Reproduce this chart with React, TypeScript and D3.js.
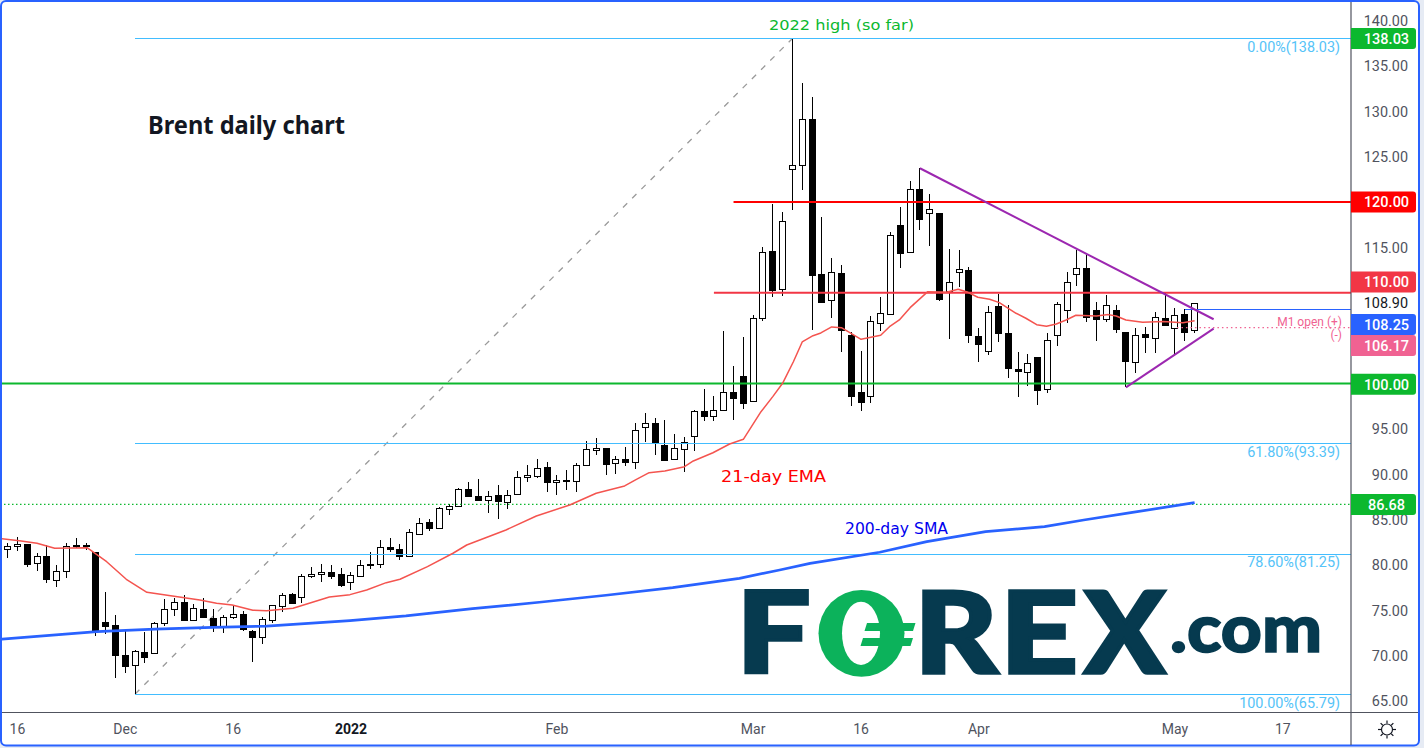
import React from "react";
import * as d3 from "d3";

const opens = [
81.80,82.07,82.32,80.19,80.97,78.43,79.42,82.18,82.18,81.41,
73.72,73.36,70.06,68.95,70.39,70.28,73.58,75.13,75.90,73.91,
75.13,74.13,73.14,74.20,74.57,72.70,72.04,73.91,75.41,76.78,
76.40,78.72,78.94,79.24,78.98,78.06,78.87,80.09,80.09,81.96,
81.74,80.97,83.50,84.71,84.05,86.15,86.43,88.35,87.58,87.25,
87.69,87.03,87.75,89.67,89.78,90.77,89.08,89.34,89.19,91.00,
92.61,92.87,91.17,91.66,91.33,95.14,95.62,93.23,91.66,92.87,
94.19,96.95,96.40,97.06,99.04,100.84,98.01,107.16,114.62,110.35,
123.58,124.02,129.16,112.08,109.18,112.16,105.36,99.04,98.60,106.65,
107.64,117.48,114.43,121.45,118.77,118.80,110.17,112.27,112.52,105.21,
103.56,108.52,105.54,101.57,101.25,102.93,99.33,105.32,108.08,112.05,
112.74,108.11,107.04,108.11,105.65,102.35,105.47,105.00,107.20,106.10,
107.67,105.87];

const closes = [
82.10,82.32,80.15,80.97,78.39,79.38,82.13,82.13,82.02,72.77,
73.32,70.01,68.80,70.50,69.79,73.58,75.13,75.90,73.87,75.24,
74.20,73.21,74.24,74.57,72.88,71.99,74.02,75.56,76.67,75.74,
78.76,78.98,79.20,78.83,77.81,78.87,80.04,79.93,81.96,81.69,
80.97,83.61,84.67,84.05,86.26,86.48,88.35,87.53,87.10,87.64,
86.98,87.75,89.67,89.89,90.66,89.08,89.34,89.19,91.00,92.76,
92.87,91.06,91.66,91.28,94.85,95.62,93.38,91.62,92.87,93.60,
96.95,96.35,97.06,99.04,98.34,97.90,107.20,114.47,110.35,117.89,
124.06,129.13,111.97,109.03,112.27,105.83,98.67,97.90,106.87,107.75,
116.35,114.43,121.41,118.17,119.21,109.32,111.16,112.60,105.39,104.29,
107.86,105.50,101.64,101.31,102.24,99.33,104.77,108.74,111.16,112.71,
107.37,107.16,108.63,106.05,102.41,105.32,105.17,107.31,106.38,107.53,
105.72,108.85];

const highs = [
82.40,83.06,82.32,81.30,82.18,79.98,82.47,82.95,82.47,81.47,
77.03,74.50,72.84,70.64,72.66,73.69,76.26,76.34,76.70,75.68,
76.34,75.13,74.50,75.49,74.90,72.84,74.24,75.60,76.89,76.89,
78.98,79.75,80.12,80.01,79.64,79.24,80.56,81.41,82.76,82.95,
82.32,83.94,85.15,85.04,86.43,86.73,88.46,89.12,89.48,88.13,
88.82,88.27,90.37,91.03,91.69,91.36,89.93,90.48,91.22,93.67,
94.00,92.87,92.02,93.01,95.66,96.73,96.21,95.99,94.44,94.15,
97.09,99.40,98.63,105.80,101.94,105.14,107.56,115.09,119.80,118.88,
138.03,133.13,131.59,118.36,113.85,113.07,105.66,103.60,107.45,109.51,
116.71,119.46,122.33,123.73,120.89,118.80,114.83,114.72,112.85,106.13,
108.55,109.88,108.66,103.48,103.26,102.93,105.54,109.00,112.30,114.72,
114.17,109.00,109.76,108.63,105.72,106.13,106.20,107.86,109.95,108.30,
108.19,108.90];

const lows = [
80.75,81.58,79.82,79.38,78.06,77.62,78.61,81.85,81.66,72.22,
72.44,67.59,68.14,65.79,69.24,70.28,73.28,74.42,73.87,73.91,
74.20,72.66,72.55,74.09,72.70,69.35,71.33,73.65,74.86,75.74,
75.85,78.52,78.13,78.50,77.62,77.25,78.72,79.60,79.71,81.47,
80.59,80.97,83.50,83.79,84.05,85.52,86.43,87.53,87.10,85.77,
85.11,86.21,87.75,89.12,89.56,88.09,87.75,88.27,88.09,91.00,
92.13,89.96,90.07,90.92,90.59,93.60,92.17,91.62,91.66,90.29,
92.61,95.91,95.91,97.01,95.99,97.17,98.01,106.90,109.58,109.69,
119.17,121.34,105.91,109.03,107.27,103.52,97.57,97.01,97.90,105.83,
107.64,112.77,114.39,116.93,115.17,109.14,104.95,110.61,104.51,102.41,
103.19,104.62,100.65,98.56,99.74,97.67,99.00,104.18,106.71,110.76,
106.79,104.73,106.79,105.61,99.66,101.20,103.41,103.41,106.35,103.26,
104.73,105.61];

const emaDays = [-0.6,1.2,3,4.8,8.1,10.1,12.1,14.2,16.8,19.6,21.3,22.9,25,26.4,29.1,32.8,34.9,36.6,38.6,40,42.8,45.4,46.8,50.8,53.9,57.3,60,62.9,64.1,65.4,67,69,69.9,71.9,73.6,75,76.8,78,79,80.1,81,82.1,82.9,84,85,87,89,89.9,90.9,92,93.8,95.7,96.9,97.9,98.9,100.1,101.1,102.8,103.8,104.9,105.9,106.9,107.9,108.9,111,112.2,113,114,115.7,117.8,119.8,121];
const emaValues = [82.91,82.69,82.40,81.85,81.92,80.37,78.43,77.00,76.59,76.15,75.78,75.60,75.02,74.97,75.24,76.48,76.74,77.25,78.06,78.43,79.82,81.30,82.21,83.87,85.41,86.62,87.91,88.72,89.45,90.18,90.37,90.84,91.47,92.38,93.34,93.86,96.90,98.56,100.03,102.41,104.59,105.28,105.58,106.24,106.16,104.88,105.32,106.27,107.01,108.37,110.13,110.06,110.39,110.06,109.51,109.29,108.92,107.75,107.20,106.49,106.32,106.57,107.01,107.53,107.45,107.60,107.45,107.01,106.76,106.83,106.71,106.93];

const smaDays = [-0.9,9.1,15,20.9,26.4,34.9,40.6,47.4,54.2,61,67.8,74.6,78.7,81.8,88.9,93.7,99.7,105.7,109.7,114.5,121];
const smaValues = [71.80,72.66,72.95,73.14,73.28,73.87,74.39,75.19,75.90,76.67,77.51,78.54,79.46,80.19,81.41,82.58,83.68,84.23,84.97,85.77,86.88];

const yTicks = [140,135,130,125,115,95,90,85,80,75,70,65];
const xTickDays = [1,12,23,35,56,76,87,99,119,130];
const xTickLabels = ["16","Dec","16","2022","Feb","Mar","16","Apr","May","17"];
const fibValues = [138.03,93.39,81.25,65.79];
const fibLabels = ["0.00%(138.03)","61.80%(93.39)","78.60%(81.25)","100.00%(65.79)"];
const fibStartDay = 13;
const highDay = 80;
const resistanceUpperDays = [93,122.94];
const resistanceUpperValues = [123.73,107.09];
const supportLowerDays = [114,122.94];
const supportLowerValues = [99.59,106.05];

const AX = 1351, AY = 712.5;
const x = d3.scaleLinear().domain([0,121]).range([7.6,1194.6]);
const y = d3.scaleLinear().domain([65.79,138.03]).range([694,38.5]);
const UI = "Roboto, 'Liberation Sans', sans-serif";
const LAB = "'DejaVu Sans', sans-serif";
const emaLine = d3.line<number>().x(d=>x(d)).y((_,i)=>y(emaValues[i]));
const smaLine = d3.line<number>().x(d=>x(d)).y((_,i)=>y(smaValues[i]));

function Tag({cy,fill,label}:{cy:number;fill:string;label:string}){
  return <g>
    <path d={`M${AX} ${cy-10.5}H${AX+62}a3 3 0 0 1 3 3V${cy+7.5}a3 3 0 0 1 -3 3H${AX}Z`} fill={fill}/>
    <text x={AX+35.5} y={cy+5.2} textAnchor="middle" fontSize={14.5} fill="#fff" fontFamily={UI} fontWeight={500}>{label}</text>
  </g>;
}

export default function App(){
  const barW = 6;
  return <svg width={1424} height={748} style={{position:"absolute",left:0,top:0}}>
    <rect width={1424} height={748} fill="#e6ebf4"/>
    <rect x={1} y={1} width={1418} height={744.5} rx={5} fill="#fff" stroke="#2962ff" strokeWidth={2}/>
    <defs><clipPath id="plot"><rect x={2} y={2} width={AX-2} height={AY-2}/></clipPath></defs>

    <g clipPath="url(#plot)">
      <line x1={x(fibStartDay)} y1={y(fibValues[3])} x2={x(highDay)} y2={y(fibValues[0])} stroke="#9a9a9a" strokeWidth={1.3} strokeDasharray="6 7"/>

      {opens.map((o,i)=>{
        const c=closes[i], up=c>=o, cx=Math.floor(x(i))+0.5;
        const t=y(Math.max(o,c)), b=y(Math.min(o,c));
        return <g key={i} shapeRendering="crispEdges">
          <line x1={cx} x2={cx} y1={y(highs[i])} y2={y(lows[i])} stroke="#000" strokeWidth={1}/>
          <rect x={cx-barW/2} y={Math.round(t)+0.5} width={barW} height={Math.max(Math.round(b-t),1)} fill={up?"#fff":"#000"} stroke="#000" strokeWidth={1}/>
        </g>;
      })}

      <g shapeRendering="crispEdges">
        {fibValues.map(v=>{const fy=Math.round(y(v)-0.1)+0.5;return <line key={v} x1={x(fibStartDay)} x2={AX} y1={fy} y2={fy} stroke="#42bdff" strokeWidth={1}/>;})}
        <line x1={x(120)} x2={AX} y1={309.5} y2={309.5} stroke="#2962ff" strokeWidth={1}/>
      </g>
      <line x1={0} x2={AX} y1={y(86.68)} y2={y(86.68)} stroke="#0cb82e" strokeWidth={1.2} strokeDasharray="1.5 2.5"/>
      <line x1={x(119.2)} x2={AX} y1={y(106.17)} y2={y(106.17)} stroke="#f06292" strokeWidth={1.2} strokeDasharray="1.5 3"/>
      <line x1={0} x2={AX} y1={y(100)} y2={y(100)} stroke="#0cb82e" strokeWidth={2}/>
      <line x1={x(72)} x2={AX} y1={y(110)} y2={y(110)} stroke="#f23645" strokeWidth={2}/>
      <line x1={x(74)} x2={AX} y1={y(120)} y2={y(120)} stroke="#ff0000" strokeWidth={2}/>

      <path d={smaLine(smaDays)!} fill="none" stroke="#2962ff" strokeWidth={2.7} strokeLinejoin="round"/>
      <path d={emaLine(emaDays)!} fill="none" stroke="#f4544f" strokeWidth={1.5} strokeLinejoin="round"/>

      <line x1={x(resistanceUpperDays[0])} y1={y(resistanceUpperValues[0])} x2={x(resistanceUpperDays[1])} y2={y(resistanceUpperValues[1])} stroke="#9c27b0" strokeWidth={2}/>
      <line x1={x(supportLowerDays[0])} y1={y(supportLowerValues[0])} x2={x(supportLowerDays[1])} y2={y(supportLowerValues[1])} stroke="#9c27b0" strokeWidth={2}/>

      {fibLabels.map((l,i)=><text key={l} x={1340} y={y(fibValues[i])+13.5} textAnchor="end" fontSize={14.4} fill="#55c3f8" fontFamily={UI}>{l}</text>)}
      <text x={1342} y={326} textAnchor="end" fontSize={12} fill="#f06292" fontFamily={UI}>M1 open (+)</text>
      <text x={1342} y={339} textAnchor="end" fontSize={12} fill="#f06292" fontFamily={UI}>(-)</text>

      <text x={769} y={30} fontSize={14.5} fill="#0cb82e" fontFamily={LAB} textLength={145} lengthAdjust="spacingAndGlyphs">2022 high (so far)</text>
      <text x={721} y={482} fontSize={15} fill="#ff0000" fontFamily={LAB} textLength={105} lengthAdjust="spacingAndGlyphs">21-day EMA</text>
      <text x={845} y={533.5} fontSize={15} fill="#0000ee" fontFamily={LAB} textLength={103} lengthAdjust="spacingAndGlyphs">200-day SMA</text>
      <text x={148} y={134} fontSize={25} fontWeight={700} fill="#131722" fontFamily="'Noto Sans', sans-serif" textLength={197} lengthAdjust="spacingAndGlyphs">Brent daily chart</text>

      {/* FOREX.com logo */}
      <g fill="#063a4f" stroke="#063a4f" strokeWidth={3.5} strokeLinejoin="miter" fontFamily="Lato, 'Noto Sans', sans-serif" fontWeight={900}>
        <text x={736.5} y={672.6} fontSize={113} textLength={74} lengthAdjust="spacingAndGlyphs">F</text>
        <text x={914.5} y={672.6} fontSize={113} textLength={83} lengthAdjust="spacingAndGlyphs">R</text>
        <text x={1000} y={672.6} fontSize={113} textLength={78} lengthAdjust="spacingAndGlyphs">E</text>
        <text x={1084.5} y={672.6} fontSize={113} textLength={80.5} lengthAdjust="spacingAndGlyphs">X</text>
        <text x={1170} y={652} fontSize={67} strokeWidth={1.6} textLength={152} lengthAdjust="spacingAndGlyphs">.com</text>
      </g>
      <g>
        <ellipse cx={861.5} cy={633.3} rx={43} ry={43.4} fill="#0cb25b"/>
        <ellipse cx={861} cy={633.3} rx={19} ry={31.6} fill="#fff"/>
        <path d="M867 623H915.5L913 631H864.5ZM863 638H913L910.5 646H860.5Z" fill="#0cb25b"/>
      </g>
    </g>

    <line x1={AX} x2={AX} y1={2} y2={745} stroke="#50535e" strokeWidth={1.2}/>
    <line x1={2} x2={1418} y1={AY} y2={AY} stroke="#50535e" strokeWidth={1.2}/>

    {yTicks.map(v=><text key={v} x={1408} y={y(v)+5.2} textAnchor="end" fontSize={14.4} fill="#50535e" fontFamily={UI}>{v.toFixed(2)}</text>)}
    <text x={1408} y={308.3} textAnchor="end" fontSize={14.4} fill="#131722" fontFamily={UI}>108.90</text>

    {xTickDays.map((d,i)=><text key={i} x={x(d)} y={734} textAnchor="middle" fontSize={14} fill={xTickLabels[i]==="2022"?"#131722":"#50535e"} fontWeight={xTickLabels[i]==="2022"?700:400} fontFamily={UI}>{xTickLabels[i]}</text>)}

    <Tag cy={38.5} fill="#0cb82e" label="138.03"/>
    <Tag cy={202} fill="#ff0000" label="120.00"/>
    <Tag cy={282} fill="#f23645" label="110.00"/>
    <Tag cy={324.5} fill="#2962ff" label="108.25"/>
    <Tag cy={345.5} fill="#f06292" label="106.17"/>
    <Tag cy={384.3} fill="#0cb82e" label="100.00"/>
    <Tag cy={504.5} fill="#0cb82e" label="86.68"/>

    <g transform="translate(1387,729.5)" fill="none" stroke="#131722" strokeWidth={1.2}>
      <circle r={5.5} fill="#fff"/>
      {d3.range(8).map(i=>{const a=i*Math.PI/4;return <line key={i} x1={6*Math.cos(a)} y1={6*Math.sin(a)} x2={9*Math.cos(a)} y2={9*Math.sin(a)}/>;})}
    </g>
  </svg>;
}
